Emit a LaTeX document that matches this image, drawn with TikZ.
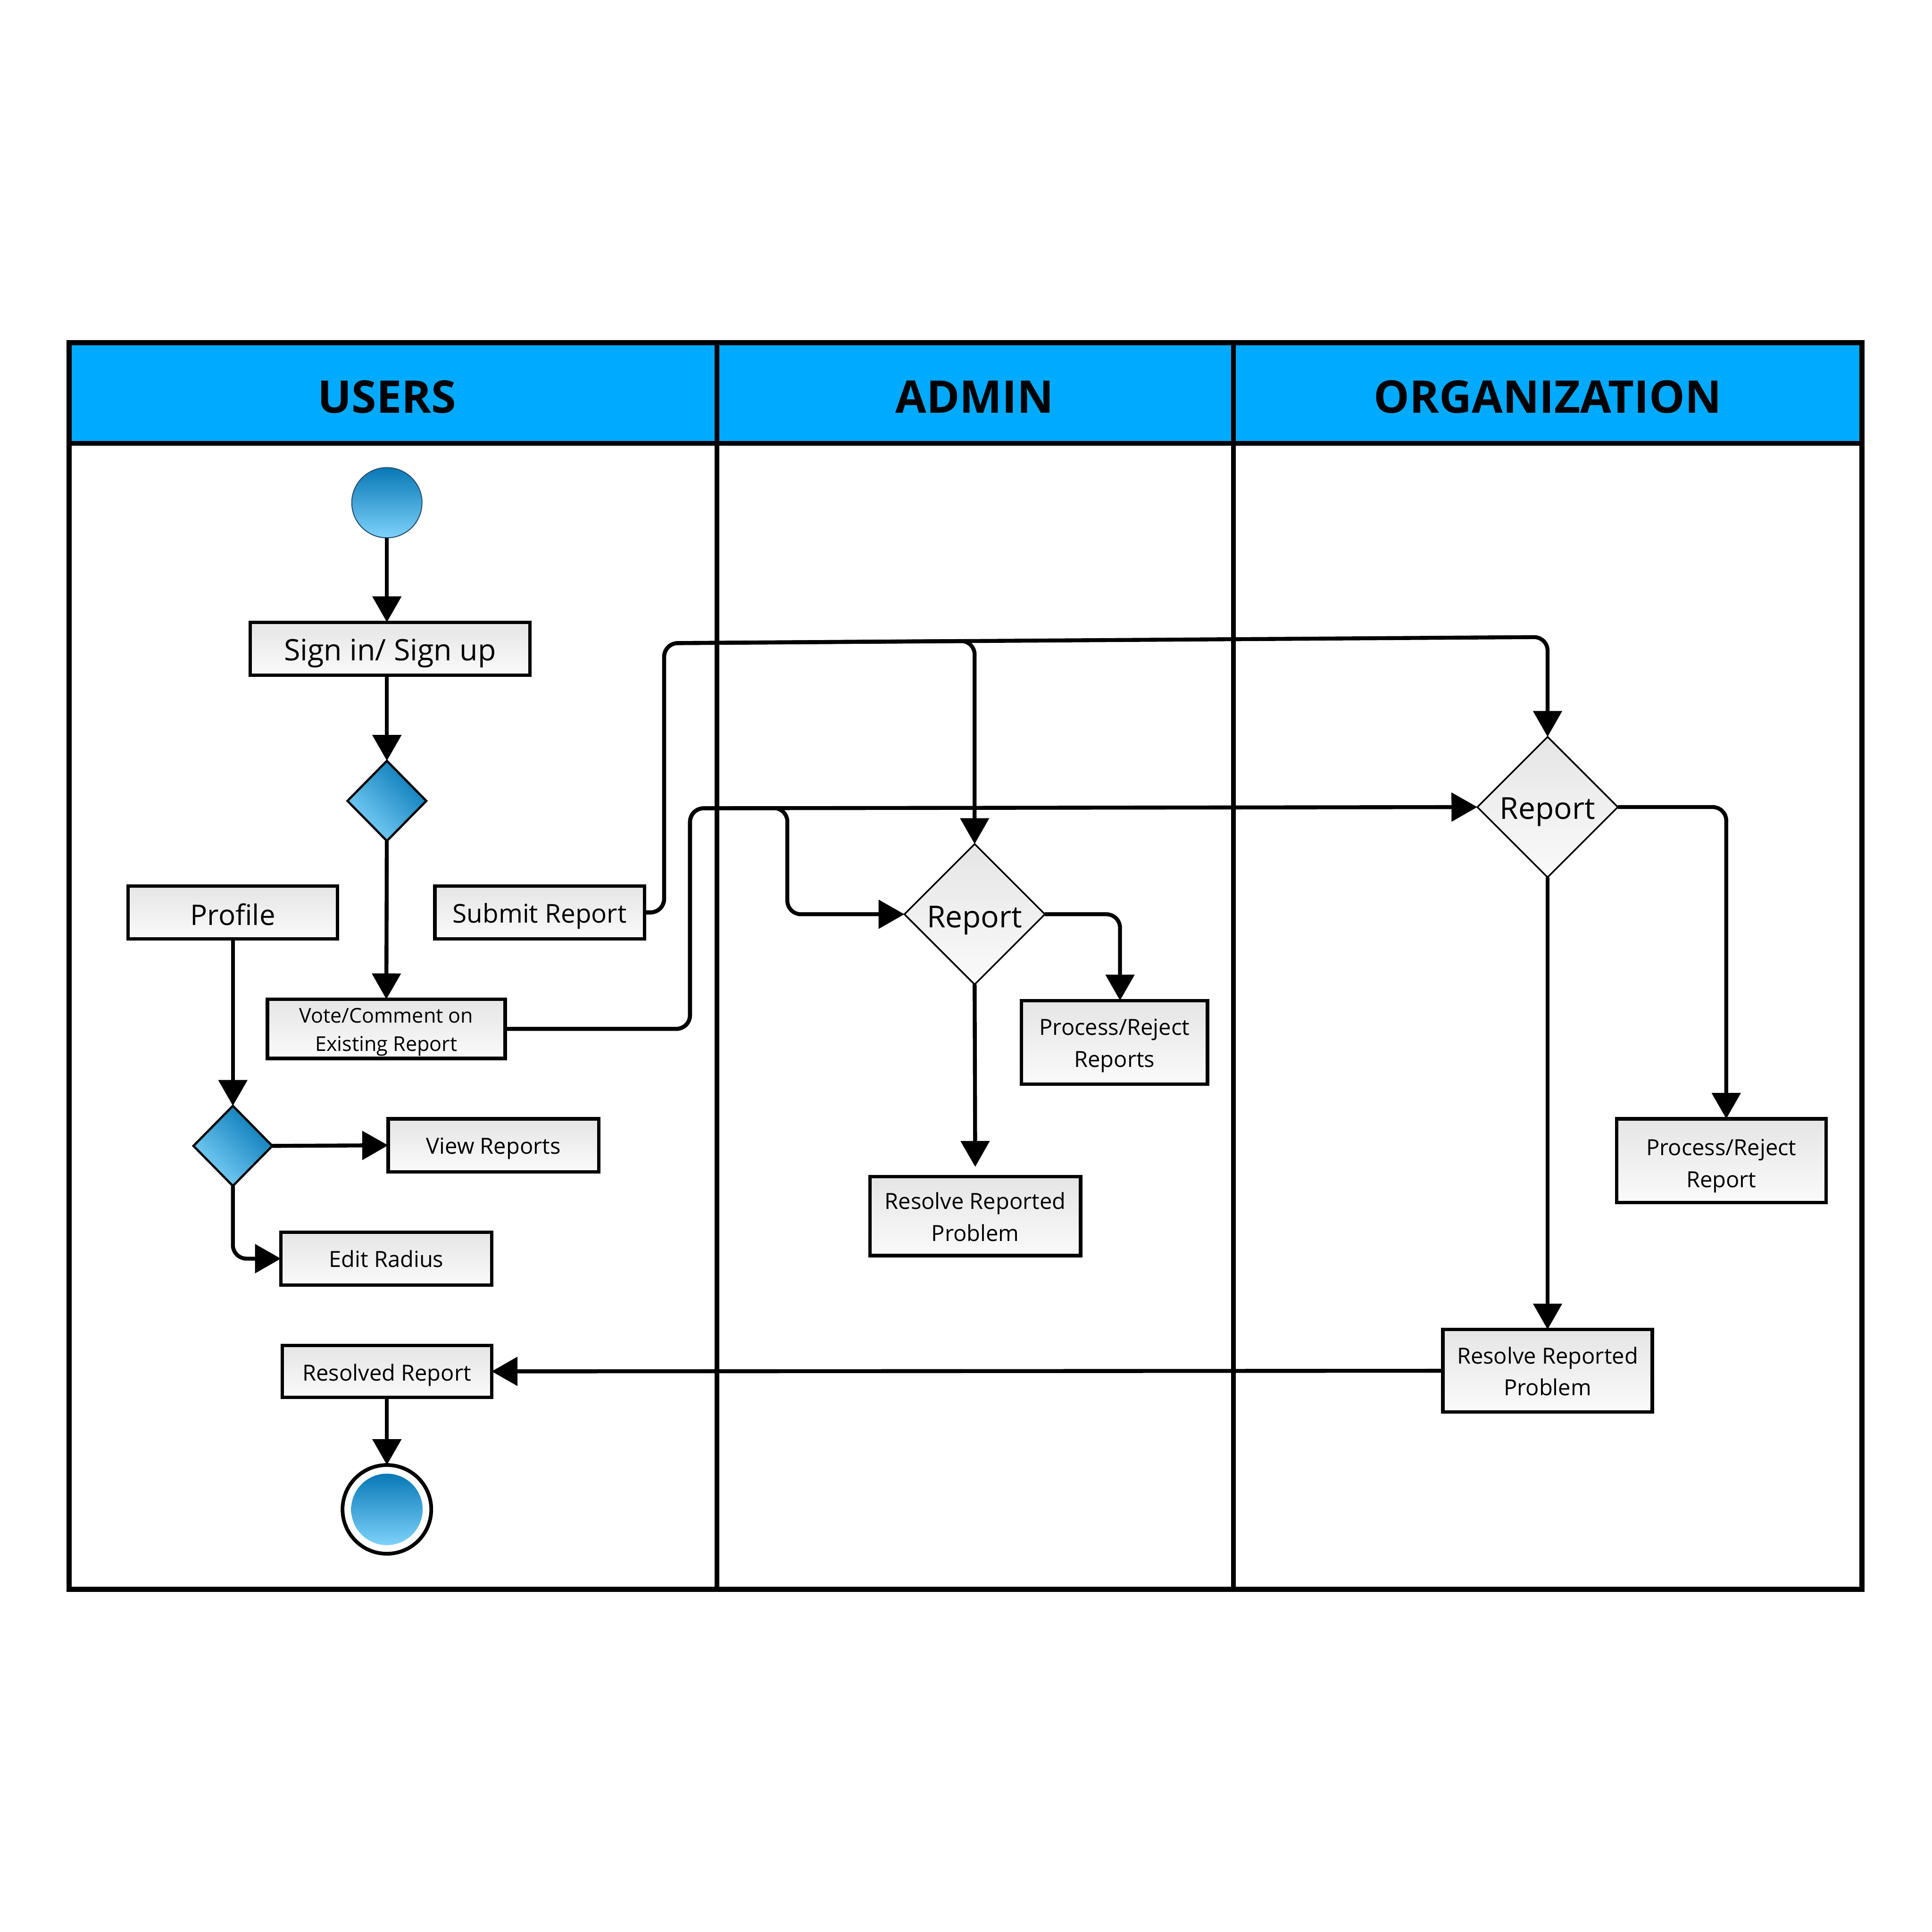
\documentclass[tikz,border=0pt]{standalone}
\usepackage{fontspec}
\setmainfont{Open Sans}
\usetikzlibrary{arrows.meta,shapes.geometric}
\definecolor{hdrblue}{RGB}{0,170,255}
\definecolor{bluedark}{RGB}{8,120,182}
\definecolor{bluelight}{RGB}{125,210,250}
\definecolor{boxtop}{RGB}{229,229,229}
\definecolor{boxbot}{RGB}{250,250,250}
\definecolor{ringc}{RGB}{40,80,110}
\newcommand\lowtxt[2]{\raisebox{-#1pt}[\height][\depth]{\begin{tabular}{@{}c@{}}#2\end{tabular}}}
\begin{document}
\begin{tikzpicture}[x=1pt,y=-1pt,
  box/.style={draw=black, line width=2.8pt, top color=boxtop, bottom color=boxbot,
    inner sep=0pt, outer sep=0pt, align=center, text=black},
  hdr/.style={font=\fontsize{36.5}{40}\selectfont\bfseries, text=black},
  dec/.style={diamond, aspect=1, draw=black, line width=1.3pt, top color=boxtop,
    bottom color=boxbot, inner sep=0pt, outer sep=0pt, minimum width=114pt, minimum height=114pt},
  bdec/.style={diamond, aspect=1, draw=black, line width=1.8pt, top color=bluedark,
    bottom color=bluelight, shading angle=-45, inner sep=0pt, outer sep=0pt,
    minimum width=64pt, minimum height=65pt},
  bcirc/.style={circle, top color=bluedark, bottom color=bluelight, inner sep=0pt, outer sep=0pt},
  arr/.style={line width=3.2pt, rounded corners=11pt, -{Triangle[length=21pt,width=23pt]}},
  lane/.style={line width=3.8pt}
]
\useasboundingbox (0,0) rectangle (1568,1568);
\fill[white] (0,0) rectangle (1568,1568);
% swimlanes
\fill[hdrblue] (56,278) rectangle (1511,360);
\draw[lane] (56,360) -- (1511,360);
\draw[lane] (582,278) -- (582,1290);
\draw[lane] (1001,278) -- (1001,1290);
\draw[line width=4.2pt] (56,278) rectangle (1511,1290);
\node[hdr] (hU) at (314,322) {USERS};
\node[hdr] (hA) at (791,322) {ADMIN};
\node[hdr] (hO) at (1256,322) {ORGANIZATION};

% USERS lane
\node[bcirc, draw=ringc, line width=0.8pt, minimum size=57pt] (start) at (314,408) {};
\node[box, minimum width=227pt, minimum height=43pt, font=\fontsize{24}{28}\selectfont] (signin) at (316.5,526.5) {\lowtxt{4}{Sign in/ Sign up}};
\node[bdec] (d1) at (314,650) {};
\node[box, minimum width=170pt, minimum height=43pt, font=\fontsize{23}{27}\selectfont] (profile) at (189,740.5) {\lowtxt{5}{Profile}};
\node[box, minimum width=170pt, minimum height=43pt, font=\fontsize{21}{25}\selectfont] (submit) at (438,740.5) {\lowtxt{3.5}{Submit Report}};
\node[box, minimum width=193pt, minimum height=48pt, font=\fontsize{16.5}{23}\selectfont] (vote) at (313.5,835) {\lowtxt{2}{Vote/Comment on\\Existing Report}};
\node[bdec] (d2) at (189,930) {};
\node[box, minimum width=171pt, minimum height=43pt, font=\fontsize{18}{25}\selectfont] (view) at (400.5,929.5) {\lowtxt{2}{View Reports}};
\node[box, minimum width=171pt, minimum height=43pt, font=\fontsize{18}{25}\selectfont] (edit) at (313.5,1021.5) {\lowtxt{2}{Edit Radius}};
\node[box, minimum width=170pt, minimum height=42pt, font=\fontsize{18}{25}\selectfont] (resolved) at (314,1113) {\lowtxt{2.5}{Resolved Report}};
\node[circle, draw=black, line width=3pt, fill=white, minimum size=72pt, inner sep=0pt, outer sep=0pt] (endo) at (314,1225) {};
\node[bcirc, minimum size=58pt] (endi) at (314,1225) {};

% ADMIN lane
\node[dec, label={[font=\fontsize{24.5}{28}\selectfont, yshift=-5pt]center:Report}] (adR) at (791,742) {};
\node[box, minimum width=151pt, minimum height=68pt, font=\fontsize{18}{26}\selectfont] (prA) at (904.5,846) {\lowtxt{2}{Process/Reject\\Reports}};
\node[box, minimum width=171pt, minimum height=64pt, font=\fontsize{18}{26}\selectfont] (resA) at (791.5,987) {\lowtxt{2}{Resolve Reported\\Problem}};

% ORGANIZATION lane
\node[dec, label={[font=\fontsize{24.5}{28}\selectfont, yshift=-4pt]center:Report}] (orgR) at (1256,655) {};
\node[box, minimum width=170pt, minimum height=68pt, font=\fontsize{18}{26}\selectfont] (prO) at (1397,942) {\lowtxt{3.5}{Process/Reject\\Report}};
\node[box, minimum width=170pt, minimum height=67pt, font=\fontsize{18}{26}\selectfont] (resO) at (1256,1112.5) {\lowtxt{2}{Resolve Reported\\Problem}};

% connectors
\draw[arr] (start.south) -- (start.south |- signin.north);
\draw[arr] (d1.north |- signin.south) -- (d1.north);
\draw[arr] (d1) -- (vote);
\draw[arr] (profile) -- (d2);
\draw[arr] (d2.east) -- (view.west);
\draw[arr] (d2.south) |- (edit.west);
\draw[arr] (resolved) -- (endo);
\draw[arr] (submit.east) -- (539,740.5) -- (539,522) -- (1256,517) -- (orgR.north);
\draw[arr] (submit.east) -- (539,740.5) -- (539,522) -- (791,520.2) -- (adR.north);
\draw[arr] (vote.east) -- (560,835) -- (560,656) -- (orgR.west);
\draw[arr] (vote.east) -- (560,835) -- (560,656) -- (639,655.8) -- (639,742) -- (adR.west);
\draw[arr] (adR.east) -- (909,742) -- (909,0 |- prA.north);
\draw[arr, shorten >=8pt] (adR.south) -- (resA.north);
\draw[arr] (orgR.east) -- (1401,655) -- (1401,0 |- prO.north);
\draw[arr] (orgR.south) -- (resO.north);
\draw[arr] (resO.west) -- (resolved.east);
\end{tikzpicture}
\end{document}
